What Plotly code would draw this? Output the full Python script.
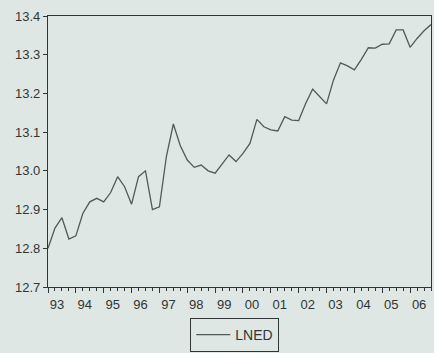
import plotly.graph_objects as go

# LNED, quarterly 1993Q1 - 2006Q4
start_year = 1993
lned = [
    12.800, 12.852, 12.879, 12.824, 12.832, 12.890, 12.920, 12.929,
    12.920, 12.944, 12.985, 12.959, 12.914, 12.985, 13.000, 12.900,
    12.907, 13.037, 13.121, 13.065, 13.028, 13.009, 13.015, 13.000,
    12.994, 13.017, 13.041, 13.024, 13.045, 13.071, 13.133, 13.114,
    13.106, 13.103, 13.140, 13.131, 13.130, 13.174, 13.211, 13.192,
    13.173, 13.235, 13.279, 13.271, 13.261, 13.288, 13.318, 13.317,
    13.327, 13.328, 13.364, 13.364, 13.319, 13.342, 13.362, 13.378,
]
year_labels = ["93", "94", "95", "96", "97", "98", "99",
               "00", "01", "02", "03", "04", "05", "06"]
y_ticks = [12.7, 12.8, 12.9, 13.0, 13.1, 13.2, 13.3, 13.4]

x = [start_year + i * 0.25 for i in range(len(lned))]
n_years = len(year_labels)

bg = "#dfe7e4"
ink = "#2f3635"
line_col = "#4f5a59"

fig = go.Figure()
fig.add_trace(go.Scatter(
    x=x, y=lned, mode="lines", name="LNED",
    line=dict(color=line_col, width=1.3),
))

fig.update_layout(
    template="none",
    width=434, height=353,
    margin=dict(l=48, r=3, t=16, b=66),
    paper_bgcolor=bg, plot_bgcolor=bg,
    font=dict(family="Liberation Sans, Arial, sans-serif", size=13, color=ink),
    showlegend=True,
    legend=dict(
        orientation="h", x=0.541, xref="container", xanchor="center",
        y=0.003, yref="container", yanchor="bottom",
        bordercolor=ink, borderwidth=1, bgcolor=bg,
        font=dict(size=14, color=ink),
        itemwidth=34,
    ),
)

fig.update_xaxes(
    range=[start_year, start_year + (len(lned) - 1) * 0.25],
    tickmode="array",
    tickvals=[start_year + k for k in range(n_years)],
    ticktext=year_labels,
    ticks="outside", ticklen=5, tickcolor=ink, tickwidth=1.2,
    ticklabelshift=9,
    showgrid=False, zeroline=False,
    showline=True, linecolor=ink, linewidth=1.3, mirror=True,
    minor=dict(tick0=start_year, dtick=0.25,
               ticks="outside", ticklen=3, tickcolor=ink, tickwidth=1.2,
               showgrid=False),
)
fig.update_yaxes(
    range=[12.7, 13.4],
    tickmode="array", tickvals=y_ticks,
    ticktext=[f"{v:.1f}" for v in y_ticks],
    ticks="outside", ticklen=4, tickcolor=ink, tickwidth=1.2,
    showgrid=False, zeroline=False,
    showline=True, linecolor=ink, linewidth=1.3, mirror=True,
)

fig.write_html(
    "out.html",
    config={"displayModeBar": False},
    post_script="document.body.style.margin='0';"
                "document.body.style.overflow='hidden';"
                "document.body.style.background='%s';" % bg,
)
